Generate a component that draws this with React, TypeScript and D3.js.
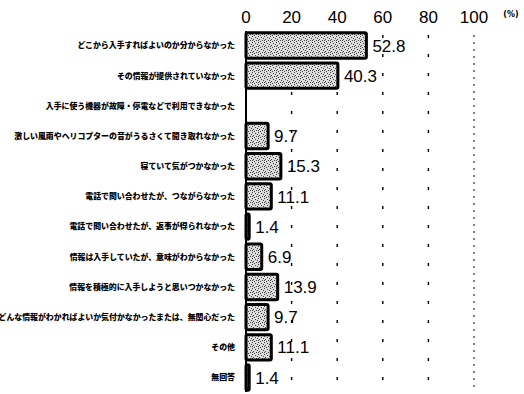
import React, { useEffect, useRef } from 'react';
import * as d3 from 'd3';

const categories = [
  'どこから入手すればよいのか分からなかった',
  'その情報が提供されていなかった',
  '入手に使う機器が故障・停電などで利用できなかった',
  '激しい風雨やヘリコプターの音がうるさくて聞き取れなかった',
  '寝ていて気がつかなかった',
  '電話で問い合わせたが、つながらなかった',
  '電話で問い合わせたが、返事が得られなかった',
  '情報は入手していたが、意味がわからなかった',
  '情報を積極的に入手しようと思いつかなかった',
  'どんな情報がわかればよいか気付かなかったまたは、無関心だった',
  'その他',
  '無回答',
];
const values = [52.8, 40.3, 0, 9.7, 15.3, 11.1, 1.4, 6.9, 13.9, 9.7, 11.1, 1.4];
const ticks = [0, 20, 40, 60, 80, 100];

const App = () => {
  const ref = useRef<SVGSVGElement>(null);

  useEffect(() => {
    const svg = d3.select(ref.current);
    svg.selectAll('*').remove();

    const left = 246;
    const right = 474;
    const top = 31;
    const bottom = 392;

    const x = d3.scaleLinear().domain([0, 100]).range([left, right]);
    const y = d3.scaleBand().domain(categories).range([top, bottom]).paddingInner(0.16).paddingOuter(0.06);

    // stipple fill
    const defs = svg.append('defs');
    const pat = defs.append('pattern')
      .attr('id', 'stipple')
      .attr('width', 6)
      .attr('height', 6)
      .attr('patternUnits', 'userSpaceOnUse');
    pat.append('rect').attr('width', 6).attr('height', 6).attr('fill', '#dcdcdc');
    [[0, 0], [3, 1], [1, 3], [4, 4], [2, 5], [5, 2], [0, 4]].forEach(([px, py]) => {
      pat.append('rect').attr('x', px).attr('y', py).attr('width', 1).attr('height', 1).attr('fill', '#444');
    });

    // gridlines
    svg.append('g')
      .selectAll('line')
      .data(ticks.slice(1))
      .enter()
      .append('line')
      .attr('x1', d => x(d))
      .attr('x2', d => x(d))
      .attr('y1', top + 4)
      .attr('y2', bottom)
      .attr('stroke', '#000')
      .attr('stroke-width', d => (d === 100 ? 1 : 1.4))
      .attr('stroke-dasharray', d => (d === 100 ? '2 5' : '3 16'));

    // left axis line
    svg.append('line')
      .attr('x1', x(0))
      .attr('x2', x(0))
      .attr('y1', top)
      .attr('y2', bottom)
      .attr('stroke', '#000')
      .attr('stroke-width', 2);

    // tick labels
    svg.append('g')
      .selectAll('text')
      .data(ticks)
      .enter()
      .append('text')
      .attr('x', d => x(d))
      .attr('y', 23)
      .attr('text-anchor', 'middle')
      .style('font-family', 'Liberation Sans, Arial, sans-serif')
      .style('font-size', '17px')
      .text(d => d);

    svg.append('text')
      .attr('x', 511)
      .attr('y', 17)
      .attr('text-anchor', 'middle')
      .style('font-family', 'DejaVu Sans, sans-serif')
      .style('font-size', '8px')
      .style('font-weight', 'bold')
      .text('(%)');

    const data = categories.map((c, i) => ({ c, v: values[i] }));

    // bars
    svg.append('g')
      .selectAll('rect')
      .data(data.filter(d => d.v > 0))
      .enter()
      .append('rect')
      .attr('x', x(0))
      .attr('y', d => y(d.c)!)
      .attr('width', d => x(d.v) - x(0))
      .attr('height', y.bandwidth())
      .attr('fill', 'url(#stipple)')
      .attr('stroke', '#000')
      .attr('stroke-width', 3)
      .attr('rx', 1.5);

    // value labels
    svg.append('g')
      .selectAll('text')
      .data(data.filter(d => d.v > 0))
      .enter()
      .append('text')
      .attr('x', d => x(d.v) + 6)
      .attr('y', d => y(d.c)! + y.bandwidth() / 2)
      .attr('dy', '0.36em')
      .style('font-family', 'Liberation Sans, Arial, sans-serif')
      .style('font-size', '17px')
      .text(d => d.v.toFixed(1));

    // category labels
    svg.append('g')
      .selectAll('text')
      .data(data)
      .enter()
      .append('text')
      .attr('x', 235)
      .attr('y', d => y(d.c)! + y.bandwidth() / 2)
      .attr('dy', '0.36em')
      .attr('text-anchor', 'end')
      .style('font-family', 'Noto Sans CJK JP, sans-serif')
      .style('font-size', '7.9px')
      .style('font-weight', 900)
      .text(d => d.c);
  }, []);

  return (
    <div style={{ position: 'absolute', left: 0, top: 0 }}>
      <svg ref={ref} width={524} height={394} style={{ display: 'block', background: '#fff' }}></svg>
    </div>
  );
};

export default App;
